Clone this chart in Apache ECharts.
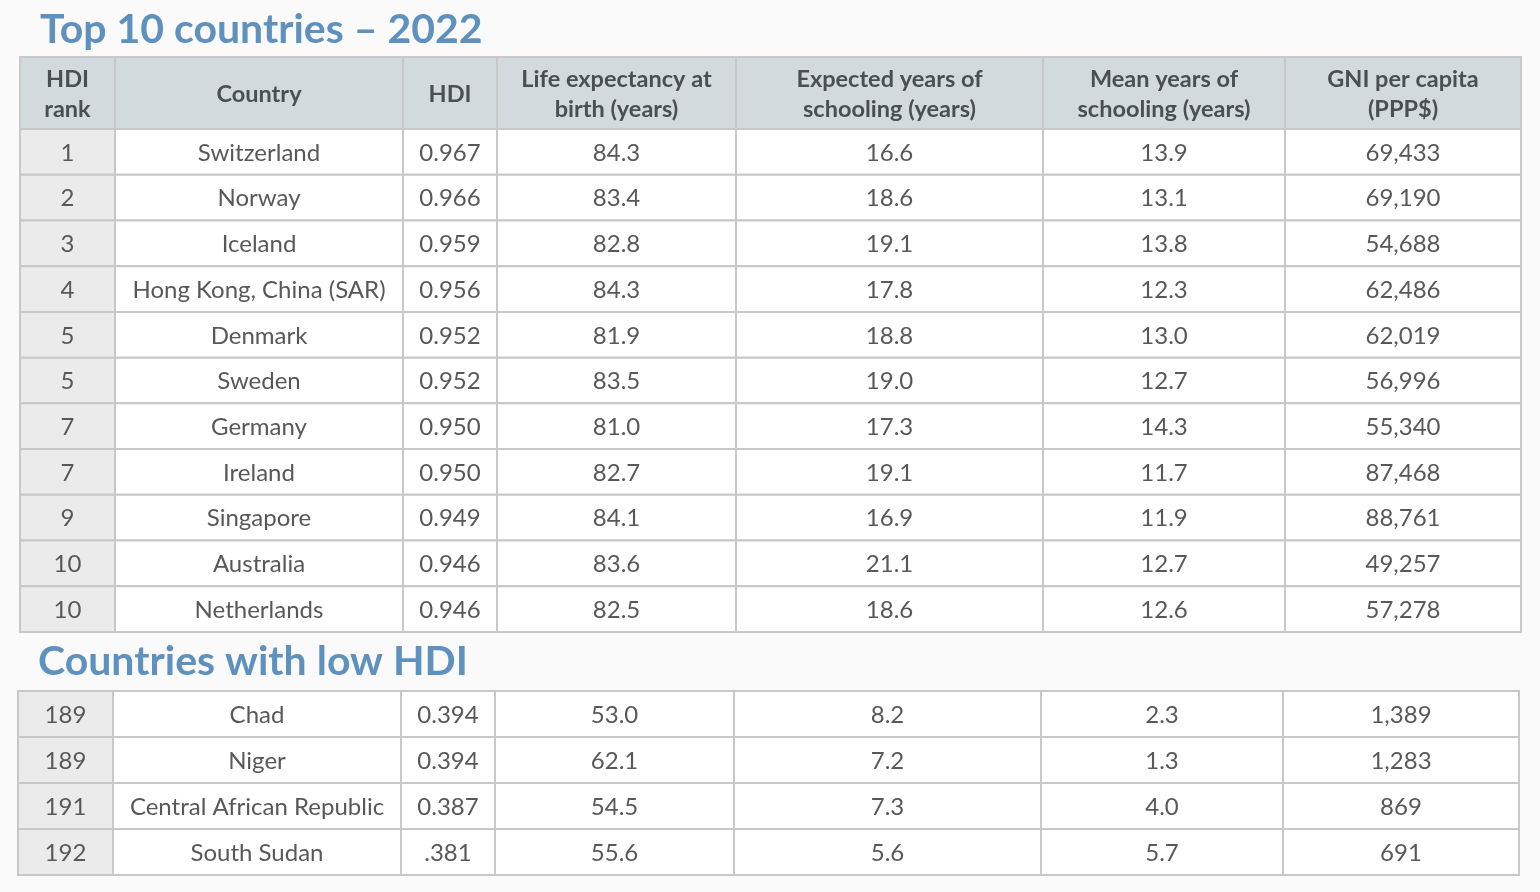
<!DOCTYPE html>
<html>
<head>
<meta charset="utf-8">
<script src="https://cdn.jsdelivr.net/npm/echarts@6/dist/echarts.min.js"></script>
<style>
  html, body { margin: 0; padding: 0; background: #fafafa; }
  #container1 { width: 1540px; height: 892px; }
</style>
</head>
<body>
<div id="container1"></div>
<script>
// column headers
var headers = ['HDI\nrank', 'Country', 'HDI', 'Life expectancy at\nbirth (years)',
  'Expected years of\nschooling (years)', 'Mean years of\nschooling (years)', 'GNI per capita\n(PPP$)'];

// top 10 table
var topRank = ['1', '2', '3', '4', '5', '5', '7', '7', '9', '10', '10'];
var topCountry = ['Switzerland', 'Norway', 'Iceland', 'Hong Kong, China (SAR)', 'Denmark', 'Sweden',
  'Germany', 'Ireland', 'Singapore', 'Australia', 'Netherlands'];
var topHdi = ['0.967', '0.966', '0.959', '0.956', '0.952', '0.952', '0.950', '0.950', '0.949', '0.946', '0.946'];
var topLife = ['84.3', '83.4', '82.8', '84.3', '81.9', '83.5', '81.0', '82.7', '84.1', '83.6', '82.5'];
var topExpected = ['16.6', '18.6', '19.1', '17.8', '18.8', '19.0', '17.3', '19.1', '16.9', '21.1', '18.6'];
var topMean = ['13.9', '13.1', '13.8', '12.3', '13.0', '12.7', '14.3', '11.7', '11.9', '12.7', '12.6'];
var topGni = ['69,433', '69,190', '54,688', '62,486', '62,019', '56,996', '55,340', '87,468', '88,761', '49,257', '57,278'];

// low HDI table
var lowRank = ['189', '189', '191', '192'];
var lowCountry = ['Chad', 'Niger', 'Central African Republic', 'South Sudan'];
var lowHdi = ['0.394', '0.394', '0.387', '.381'];
var lowLife = ['53.0', '62.1', '54.5', '55.6'];
var lowExpected = ['8.2', '7.2', '7.3', '5.6'];
var lowMean = ['2.3', '1.3', '4.0', '5.7'];
var lowGni = ['1,389', '1,283', '869', '691'];

// layout (axis units = pixels)
var colEdges = [0, 95, 383, 477, 716, 1023, 1265, 1501];
var headH = 72;
var topRowH = (575 - headH) / topRank.length;
var lowRowH = 46;

var font = 'Lato, "Open Sans", sans-serif';

// cells as [col, row]; texts kept in a parallel list (strings like "53.0" must stay as typed)
function buildCells(cols, withHeader) {
  var cells = [], texts = [];
  if (withHeader) {
    headers.forEach(function (h, c) { cells.push([c, -1]); texts.push(h); });
  }
  cols[0].forEach(function (_, r) {
    cols.forEach(function (col, c) { cells.push([c, r]); texts.push(col[r]); });
  });
  return { cells: cells, texts: texts };
}

function makeRender(texts, withHeader, rowH) {
  return function (params, api) {
    var c = api.value(0), r = api.value(1), txt = texts[params.dataIndex];
    var y0, y1;
    if (r < 0) { y0 = 0; y1 = headH; }
    else {
      var off = withHeader ? headH : 0;
      y0 = off + r * rowH; y1 = y0 + rowH;
    }
    var p0 = api.coord([colEdges[c], y0]);
    var p1 = api.coord([colEdges[c + 1], y1]);
    var isHead = r < 0;
    var fill = isHead ? '#d3dadd' : (c === 0 ? '#ebebeb' : '#ffffff');
    return {
      type: 'group',
      children: [{
        type: 'rect',
        shape: { x: p0[0], y: p0[1], width: p1[0] - p0[0], height: p1[1] - p0[1] },
        style: { fill: fill, stroke: '#c8c8c8', lineWidth: 2 }
      }, {
        type: 'text',
        x: (p0[0] + p1[0]) / 2,
        y: (p0[1] + p1[1]) / 2 + 1,
        style: {
          text: txt,
          align: 'center',
          verticalAlign: 'middle',
          fontFamily: font,
          fontSize: isHead ? 23.5 : 24,
          fontWeight: isHead ? 'bold' : 'normal',
          lineHeight: 30,
          fill: isHead ? '#4a4f52' : '#585858'
        }
      }]
    };
  };
}

var topTable = buildCells([topRank, topCountry, topHdi, topLife, topExpected, topMean, topGni], true);
var lowTable = buildCells([lowRank, lowCountry, lowHdi, lowLife, lowExpected, lowMean, lowGni], false);

var myChart = echarts.init(document.getElementById('container1'));
var option = {
  backgroundColor: '#fafafa',
  animation: false,
  title: [
    { text: 'Top 10 countries \u2013 2022', left: 35, top: 4,
      textStyle: { fontFamily: font, fontSize: 41, fontWeight: 'bold', color: '#5f91be' } },
    { text: 'Countries with low HDI', left: 33, top: 636,
      textStyle: { fontFamily: font, fontSize: 41, fontWeight: 'bold', color: '#5f91be' } }
  ],
  grid: [
    { left: 20, top: 57, width: 1501, height: 575 },
    { left: 18, top: 691, width: 1501, height: 184 }
  ],
  xAxis: [
    { type: 'value', gridIndex: 0, min: 0, max: 1501, show: false },
    { type: 'value', gridIndex: 1, min: 0, max: 1501, show: false }
  ],
  yAxis: [
    { type: 'value', gridIndex: 0, min: 0, max: 575, inverse: true, show: false },
    { type: 'value', gridIndex: 1, min: 0, max: 184, inverse: true, show: false }
  ],
  series: [
    {
      type: 'custom', xAxisIndex: 0, yAxisIndex: 0,
      renderItem: makeRender(topTable.texts, true, topRowH),
      data: topTable.cells
    },
    {
      type: 'custom', xAxisIndex: 1, yAxisIndex: 1,
      renderItem: makeRender(lowTable.texts, false, lowRowH),
      data: lowTable.cells
    }
  ]
};
myChart.setOption(option, true);
</script>
</body>
</html>
